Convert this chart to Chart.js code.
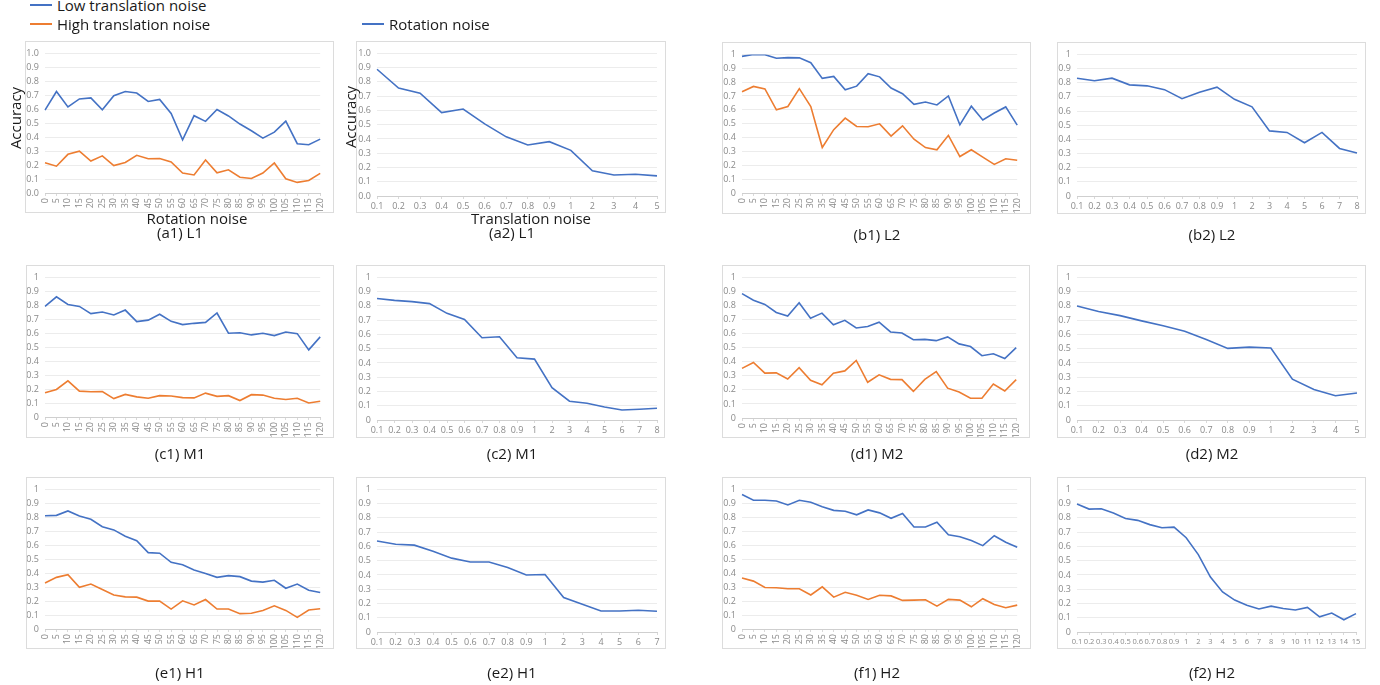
<!DOCTYPE html>
<html>
<head>
<meta charset="utf-8">
<script src="https://cdn.jsdelivr.net/npm/chart.js@4/dist/chart.umd.min.js"></script>
<style>
  body { margin: 0; width: 1380px; height: 685px; background: #fff; position: relative; overflow: hidden; font-family: "Open Sans", sans-serif; color: #1a1a1a; }
  canvas { position: absolute; outline: 1px solid #dcdcdc; }
  .txt { position: absolute; white-space: nowrap; transform: translate(-50%, -50%); }
  .cap { font-size: 15px; }
  .ttl { font-size: 15px; }
  .leg { position: absolute; font-size: 15px; white-space: nowrap; transform: translateY(-50%); }
  .legline { position: absolute; height: 2px; width: 22px; }
</style>
</head>
<body>
<script>
  // category labels
  const rotationLabels = ["0", "5", "10", "15", "20", "25", "30", "35", "40", "45", "50", "55", "60",
    "65", "70", "75", "80", "85", "90", "95", "100", "105", "110", "115", "120"];
  const trans5 = ["0.1", "0.2", "0.3", "0.4", "0.5", "0.6", "0.7", "0.8", "0.9", "1", "2", "3", "4", "5"];
  const trans7 = ["0.1", "0.2", "0.3", "0.4", "0.5", "0.6", "0.7", "0.8", "0.9", "1", "2", "3", "4", "5", "6", "7"];
  const trans8 = ["0.1", "0.2", "0.3", "0.4", "0.5", "0.6", "0.7", "0.8", "0.9", "1", "2", "3", "4", "5", "6", "7", "8"];
  const trans15 = ["0.1", "0.2", "0.3", "0.4", "0.5", "0.6", "0.7", "0.8", "0.9", "1", "2", "3", "4", "5",
    "6", "7", "8", "9", "10", "11", "12", "13", "14", "15"];

  // (a1) L1
  const a1Low = [0.594, 0.727, 0.617, 0.674, 0.681, 0.596, 0.697, 0.727, 0.716, 0.656, 0.670, 0.570, 0.381,
    0.554, 0.513, 0.598, 0.552, 0.494, 0.446, 0.393, 0.436, 0.515, 0.353, 0.346, 0.386];
  const a1High = [0.217, 0.192, 0.277, 0.300, 0.229, 0.266, 0.196, 0.219, 0.270, 0.245, 0.247, 0.222, 0.143,
    0.129, 0.236, 0.145, 0.166, 0.113, 0.104, 0.143, 0.215, 0.102, 0.076, 0.090, 0.141];
  // (a2) L1
  const a2Rot = [0.889, 0.757, 0.721, 0.585, 0.610, 0.506, 0.415, 0.358, 0.381, 0.320, 0.177, 0.147, 0.152, 0.141];
  // (b1) L2
  const b1Low = [0.986, 1.0, 0.998, 0.972, 0.977, 0.975, 0.940, 0.827, 0.841, 0.744, 0.771, 0.861, 0.838,
    0.757, 0.716, 0.640, 0.656, 0.635, 0.700, 0.492, 0.626, 0.527, 0.577, 0.621, 0.490];
  const b1High = [0.730, 0.769, 0.751, 0.600, 0.624, 0.753, 0.624, 0.328, 0.457, 0.540, 0.480, 0.478, 0.499,
    0.411, 0.485, 0.388, 0.328, 0.312, 0.416, 0.263, 0.312, 0.259, 0.206, 0.247, 0.236];
  // (b2) L2
  const b2Rot = [0.832, 0.814, 0.832, 0.785, 0.778, 0.751, 0.687, 0.732, 0.769, 0.683, 0.630, 0.460, 0.449,
    0.376, 0.449, 0.336, 0.304];
  // (c1) M1
  const c1Low = [0.792, 0.861, 0.806, 0.792, 0.741, 0.752, 0.731, 0.766, 0.683, 0.694, 0.736, 0.685, 0.662,
    0.671, 0.678, 0.745, 0.600, 0.604, 0.588, 0.600, 0.583, 0.609, 0.597, 0.481, 0.574];
  const c1High = [0.174, 0.197, 0.259, 0.185, 0.181, 0.183, 0.132, 0.162, 0.144, 0.134, 0.153, 0.150, 0.139,
    0.137, 0.171, 0.148, 0.153, 0.118, 0.160, 0.157, 0.134, 0.125, 0.134, 0.100, 0.113];
  // (c2) M1
  const c2Rot = [0.852, 0.839, 0.830, 0.816, 0.748, 0.705, 0.577, 0.584, 0.436, 0.427, 0.227, 0.132, 0.118,
    0.091, 0.070, 0.075, 0.082];
  // (d1) M2
  const d1Low = [0.885, 0.838, 0.808, 0.751, 0.725, 0.820, 0.709, 0.746, 0.663, 0.695, 0.640, 0.651, 0.681,
    0.612, 0.605, 0.557, 0.559, 0.550, 0.577, 0.527, 0.508, 0.443, 0.457, 0.423, 0.501];
  const d1High = [0.353, 0.395, 0.319, 0.321, 0.277, 0.358, 0.268, 0.236, 0.319, 0.335, 0.409, 0.254, 0.307,
    0.275, 0.273, 0.189, 0.275, 0.330, 0.212, 0.185, 0.141, 0.141, 0.242, 0.192, 0.273];
  // (d2) M2
  const d2Rot = [0.800, 0.761, 0.732, 0.695, 0.661, 0.623, 0.564, 0.502, 0.511, 0.505, 0.286, 0.214, 0.170, 0.189];
  // (e1) H1
  const e1Low = [0.811, 0.814, 0.846, 0.809, 0.786, 0.733, 0.710, 0.664, 0.632, 0.547, 0.543, 0.478, 0.460,
    0.423, 0.398, 0.370, 0.382, 0.375, 0.343, 0.336, 0.349, 0.292, 0.322, 0.278, 0.262];
  const e1High = [0.329, 0.370, 0.389, 0.299, 0.322, 0.283, 0.244, 0.230, 0.228, 0.200, 0.200, 0.143, 0.202,
    0.172, 0.211, 0.143, 0.143, 0.110, 0.113, 0.133, 0.166, 0.133, 0.083, 0.136, 0.145];
  // (e2) H1
  const e2Rot = [0.638, 0.615, 0.609, 0.566, 0.518, 0.491, 0.491, 0.452, 0.400, 0.403, 0.242, 0.195, 0.147,
    0.147, 0.152, 0.145];
  // (f1) H2
  const f1Low = [0.963, 0.922, 0.922, 0.917, 0.889, 0.922, 0.908, 0.876, 0.850, 0.843, 0.818, 0.853, 0.832,
    0.793, 0.828, 0.731, 0.731, 0.765, 0.675, 0.661, 0.634, 0.597, 0.668, 0.622, 0.585];
  const f1High = [0.366, 0.343, 0.297, 0.295, 0.288, 0.288, 0.244, 0.302, 0.228, 0.263, 0.242, 0.212, 0.242,
    0.237, 0.205, 0.207, 0.210, 0.164, 0.212, 0.207, 0.159, 0.217, 0.175, 0.152, 0.171];
  // (f2) H2
  const f2Rot = [0.898, 0.862, 0.864, 0.835, 0.796, 0.783, 0.753, 0.731, 0.735, 0.661, 0.543, 0.385, 0.281,
    0.224, 0.188, 0.161, 0.181, 0.165, 0.154, 0.172, 0.106, 0.133, 0.086, 0.129];

  const BLUE = "#4472C4";
  const ORANGE = "#ED7D31";
  const FONT_FAMILY = "'Liberation Sans Narrow', 'Open Sans', sans-serif";

  function addText(cls, text, x, y, extra) {
    const d = document.createElement("div");
    d.className = cls;
    d.textContent = text;
    d.style.left = x + "px";
    d.style.top = y + "px";
    if (extra) d.style.transform = extra;
    document.body.appendChild(d);
  }

  function makePanel(p) {
    const c = document.createElement("canvas");
    c.width = p.box.w;
    c.height = p.box.h;
    c.style.left = p.box.x + "px";
    c.style.top = p.box.y + "px";
    document.body.appendChild(c);

    const yW = p.plot.l - p.box.x;
    const xH = p.box.y + p.box.h - p.plot.b;
    const rot = p.labels === rotationLabels ? 90 : 0;
    const tickFont = { family: FONT_FAMILY, size: 9 };
    const xFont = { family: FONT_FAMILY, size: p.xSize || 9 };

    new Chart(c, {
      type: "line",
      data: {
        labels: p.labels,
        datasets: p.series.map((s) => ({
          data: s.data,
          borderColor: s.color,
          borderWidth: 1.6,
          pointRadius: 0,
          tension: 0,
          fill: false,
        })),
      },
      options: {
        responsive: false,
        animation: false,
        layout: {
          padding: { top: p.plot.t - p.box.y, right: p.box.x + p.box.w - p.plot.r, left: 0, bottom: 0 },
        },
        plugins: { legend: { display: false }, tooltip: { enabled: false } },
        scales: {
          x: {
            offset: false,
            grid: { drawOnChartArea: false, tickLength: 3, color: "#d9d9d9" },
            border: { color: "#cfcfcf" },
            ticks: {
              autoSkip: false,
              font: xFont,
              color: "#8a8a8a",
              minRotation: rot,
              maxRotation: rot,
              padding: 2,
            },
            afterFit: (s) => { s.height = xH; },
          },
          y: {
            min: 0,
            max: 1,
            grid: { color: "#ececec", drawTicks: false },
            border: { display: false },
            ticks: {
              stepSize: 0.1,
              font: tickFont,
              color: "#8a8a8a",
              padding: 6,
              callback: (v) => {
                const r = Math.round(v * 10) / 10;
                return p.oneDecimal ? r.toFixed(1) : String(r);
              },
            },
            afterFit: (s) => { s.width = yW; },
          },
        },
      },
    });

    addText("txt cap", p.caption, p.capX, p.capY);
  }

  const two = (lo, hi) => [{ data: lo, color: BLUE }, { data: hi, color: ORANGE }];
  const one = (d) => [{ data: d, color: BLUE }];

  const panels = [
    { caption: "(a1) L1", labels: rotationLabels, series: two(a1Low, a1High), oneDecimal: true,
      box: { x: 26, y: 42, w: 307, h: 170 }, plot: { l: 45, r: 328, t: 49, b: 193 }, capX: 180, capY: 232 },
    { caption: "(a2) L1", labels: trans5, series: one(a2Rot), oneDecimal: true,
      box: { x: 357, y: 42, w: 308, h: 170 }, plot: { l: 377, r: 657, t: 49, b: 196 }, capX: 512, capY: 232 },
    { caption: "(b1) L2", labels: rotationLabels, series: two(b1Low, b1High),
      box: { x: 723, y: 43, w: 307, h: 170 }, plot: { l: 742, r: 1025, t: 49, b: 193 }, capX: 877, capY: 234 },
    { caption: "(b2) L2", labels: trans8, series: one(b2Rot),
      box: { x: 1058, y: 43, w: 307, h: 170 }, plot: { l: 1077, r: 1357, t: 49, b: 196 }, capX: 1212, capY: 234 },

    { caption: "(c1) M1", labels: rotationLabels, series: two(c1Low, c1High),
      box: { x: 27, y: 266, w: 306, h: 171 }, plot: { l: 45, r: 328, t: 273, b: 417 }, capX: 180, capY: 453 },
    { caption: "(c2) M1", labels: trans8, series: one(c2Rot),
      box: { x: 357, y: 266, w: 307, h: 171 }, plot: { l: 377, r: 657, t: 273, b: 420 }, capX: 512, capY: 453 },
    { caption: "(d1) M2", labels: rotationLabels, series: two(d1Low, d1High),
      box: { x: 723, y: 266, w: 306, h: 171 }, plot: { l: 742, r: 1025, t: 273, b: 418 }, capX: 877, capY: 453 },
    { caption: "(d2) M2", labels: trans5, series: one(d2Rot),
      box: { x: 1058, y: 266, w: 307, h: 171 }, plot: { l: 1077, r: 1357, t: 273, b: 420 }, capX: 1212, capY: 453 },

    { caption: "(e1) H1", labels: rotationLabels, series: two(e1Low, e1High),
      box: { x: 27, y: 478, w: 306, h: 170 }, plot: { l: 45, r: 328, t: 484, b: 629 }, capX: 180, capY: 672 },
    { caption: "(e2) H1", labels: trans7, series: one(e2Rot),
      box: { x: 357, y: 478, w: 308, h: 170 }, plot: { l: 377, r: 657, t: 484, b: 632 }, capX: 512, capY: 672 },
    { caption: "(f1) H2", labels: rotationLabels, series: two(f1Low, f1High),
      box: { x: 723, y: 478, w: 307, h: 170 }, plot: { l: 742, r: 1025, t: 484, b: 629 }, capX: 877, capY: 672 },
    { caption: "(f2) H2", labels: trans15, series: one(f2Rot), xSize: 7.5,
      box: { x: 1058, y: 478, w: 307, h: 170 }, plot: { l: 1077, r: 1356, t: 484, b: 632 }, capX: 1212, capY: 672 },
  ];

  panels.forEach(makePanel);

  // legends
  function legend(x, y, color, text) {
    const l = document.createElement("div");
    l.className = "legline";
    l.style.left = x + "px";
    l.style.top = (y - 1) + "px";
    l.style.background = color;
    document.body.appendChild(l);
    const t = document.createElement("div");
    t.className = "leg";
    t.textContent = text;
    t.style.left = (x + 27) + "px";
    t.style.top = y + "px";
    document.body.appendChild(t);
  }
  legend(30, 5, BLUE, "Low translation noise");
  legend(30, 24, ORANGE, "High translation noise");
  legend(362, 24, BLUE, "Rotation noise");

  // axis titles
  addText("txt ttl", "Accuracy", 15, 118, "translate(-50%, -50%) rotate(-90deg)");
  addText("txt ttl", "Accuracy", 350, 117, "translate(-50%, -50%) rotate(-90deg)");
  addText("txt ttl", "Rotation noise", 197, 218);
  addText("txt ttl", "Translation noise", 531, 218);
</script>
</body>
</html>
